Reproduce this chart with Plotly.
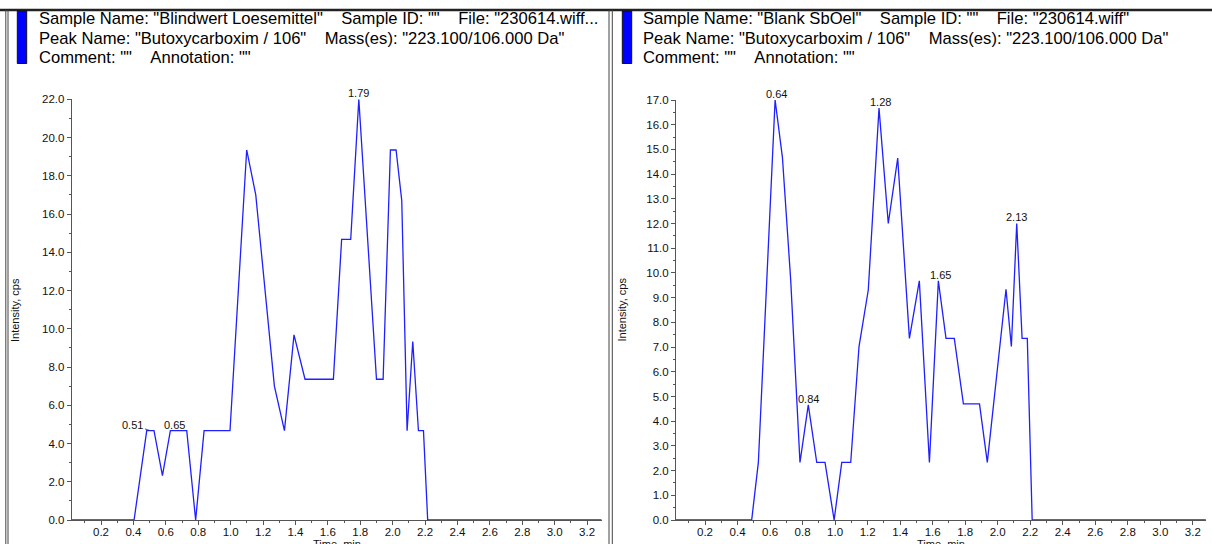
import plotly.graph_objects as go

W, H = 1212, 544

# ---------------- data ----------------
# Left panel: Blindwert Loesemittel
left_time = [0.02, 0.404, 0.482, 0.527, 0.579, 0.628, 0.729, 0.784, 0.836, 0.996,
             1.099, 1.155, 1.270, 1.332, 1.391, 1.459, 1.634, 1.685, 1.741, 1.791,
             1.900, 1.941, 1.986, 2.021, 2.056, 2.089, 2.124, 2.159, 2.190, 2.216, 3.29]
left_int = [0.0, 0.0, 4.67, 4.67, 2.32, 4.67, 4.67, 0.0, 4.67, 4.67,
            19.35, 17.0, 7.0, 4.67, 9.68, 7.36, 7.36, 14.68, 14.68, 22.0,
            7.36, 7.36, 19.35, 19.35, 16.7, 4.67, 9.33, 4.67, 4.67, 0.0, 0.0]

# Right panel: Blank SbOel
right_time = [0.02, 0.487, 0.528, 0.579, 0.631, 0.676, 0.727, 0.784, 0.835, 0.887,
              0.938, 0.994, 1.041, 1.096, 1.147, 1.204, 1.270, 1.327, 1.385, 1.457,
              1.518, 1.580, 1.635, 1.682, 1.733, 1.789, 1.888, 1.936, 2.051, 2.084,
              2.117, 2.150, 2.182, 2.212, 3.28]
right_int = [0.0, 0.0, 2.33, 9.65, 17.0, 14.68, 9.7, 2.33, 4.66, 2.33,
             2.33, 0.0, 2.33, 2.33, 7.02, 9.31, 16.67, 12.0, 14.65, 7.35,
             9.68, 2.33, 9.68, 7.35, 7.35, 4.70, 4.70, 2.33, 9.34, 7.02,
             12.0, 7.35, 7.35, 0.0, 0.0]

# Peak labels: text, label x position (min), peak intensity
left_labels = ["0.65", "1.79"]
left_label_x = [0.651, 1.792]
left_label_y = [4.67, 22.0]
left_arrow_label = "0.51"
left_arrow_x, left_arrow_y = 0.505, 4.67

right_labels = ["0.64", "0.84", "1.28", "1.65", "2.13"]
right_label_x = [0.641, 0.835, 1.278, 1.647, 2.117]
right_label_y = [17.0, 4.66, 16.67, 9.68, 12.0]

left_header = [['Sample Name: "Blindwert Loesemittel"', 'Sample ID: ""', 'File: "230614.wiff...'],
               ['Peak Name: "Butoxycarboxim / 106"', 'Mass(es): "223.100/106.000 Da"'],
               ['Comment: ""', 'Annotation: ""']]
right_header = [['Sample Name: "Blank SbOel"', 'Sample ID: ""', 'File: "230614.wiff"'],
                ['Peak Name: "Butoxycarboxim / 106"', 'Mass(es): "223.100/106.000 Da"'],
                ['Comment: ""', 'Annotation: ""']]

# ---------------- helpers ----------------
def px(x):
    return x / W

def py(y):
    return 1 - y / H

FONT = "Liberation Sans, Arial, sans-serif"
LINE_BLUE = "#1f1fff"
AX = "#555555"
GAP = "\u00a0" * 4

fig = go.Figure()
fig.add_trace(go.Scatter(x=left_time, y=left_int, mode="lines",
                         line=dict(color=LINE_BLUE, width=1.3), xaxis="x", yaxis="y",
                         hoverinfo="skip", showlegend=False))
fig.add_trace(go.Scatter(x=right_time, y=right_int, mode="lines",
                         line=dict(color=LINE_BLUE, width=1.3), xaxis="x2", yaxis="y2",
                         hoverinfo="skip", showlegend=False))

def xaxis_cfg(dom, rng, anchor):
    return dict(domain=dom, range=rng, anchor=anchor, showline=True, linecolor=AX, linewidth=1,
                ticks="outside", ticklen=4, tickcolor=AX, tickwidth=1, showgrid=False,
                zeroline=False, tick0=0, dtick=0.2, tickformat=".1f", automargin=False,
                ticklabelstandoff=-3,
                tickfont=dict(family=FONT, size=11.5, color="#111"),
                minor=dict(ticks="outside", ticklen=2, dtick=0.1, tick0=0, tickcolor=AX, showgrid=False))

def yaxis_cfg(dom, rng, anchor, dt, mdt):
    return dict(domain=dom, range=rng, anchor=anchor, showline=True, linecolor=AX, linewidth=1,
                ticks="outside", ticklen=4, tickcolor=AX, tickwidth=1, showgrid=False,
                zeroline=False, tick0=0, dtick=dt, tickformat=".1f", automargin=False,
                tickfont=dict(family=FONT, size=11.5, color="#111"),
                minor=dict(ticks="outside", ticklen=2, dtick=mdt, tick0=0, tickcolor=AX, showgrid=False))

fig.update_layout(
    template="none",
    width=W, height=H, autosize=False, margin=dict(l=0, r=0, t=0, b=0, pad=0),
    paper_bgcolor="white", plot_bgcolor="white", showlegend=False,
    xaxis=xaxis_cfg([px(71.7), px(601.7)], [0.019, 3.29], "y"),
    yaxis=yaxis_cfg([py(520), py(99.3)], [0, 22], "x", 2, 1),
    xaxis2=xaxis_cfg([px(676), px(1206)], [0.0215, 3.281], "y2"),
    yaxis2=yaxis_cfg([py(520), py(100)], [0, 17], "x2", 1, 0.5),
)

ann = []
# Peak labels
for t, xv, yv in zip(left_labels, left_label_x, left_label_y):
    ann.append(dict(x=xv, y=yv, xref="x", yref="y", text=t, showarrow=False,
                    yanchor="middle", yshift=5.8, font=dict(family=FONT, size=11, color="#111")))
ann.append(dict(x=left_arrow_x, y=left_arrow_y, xref="x", yref="y", text=left_arrow_label,
                showarrow=True, arrowhead=0, arrowwidth=0.8, arrowcolor="#333", ax=-17.5, ay=-5.7,
                standoff=0, font=dict(family=FONT, size=11, color="#111")))
for t, xv, yv in zip(right_labels, right_label_x, right_label_y):
    ann.append(dict(x=xv, y=yv, xref="x2", yref="y2", text=t, showarrow=False,
                    yanchor="middle", yshift=6.2, font=dict(family=FONT, size=11, color="#111")))

# Axis titles
for xc in (15, 621.5):
    ann.append(dict(x=px(xc), y=py(310), xref="paper", yref="paper", text="Intensity, cps",
                    textangle=-90, showarrow=False, xanchor="center", yanchor="middle",
                    font=dict(family=FONT, size=11, color="#111")))
for xc in (336.7, 941.0):
    ann.append(dict(x=px(xc), y=py(536), xref="paper", yref="paper", text="Time, min",
                    showarrow=False, xanchor="center", yanchor="top",
                    font=dict(family=FONT, size=11, color="#111")))

# Headers (one text per line, fields separated by a fixed gap)
line_y = [19, 38.5, 58]
for hdr, x0 in ((left_header, 37), (right_header, 641.5)):
    for li, parts in enumerate(hdr):
        ann.append(dict(x=px(x0), y=py(line_y[li]), xref="paper", yref="paper",
                        text=GAP.join(parts), showarrow=False, xanchor="left", yanchor="middle",
                        font=dict(family=FONT, size=16.6, color="#000")))
fig.update_layout(annotations=ann)

# Frame lines and blue bars
shapes = [
    dict(type="line", xref="paper", yref="paper", x0=0, x1=1, y0=py(10), y1=py(10),
         line=dict(color="#222", width=2.5)),
]
for xv in (5.8, 8.0, 609.0, 612.3):
    shapes.append(dict(type="line", xref="paper", yref="paper", x0=px(xv), x1=px(xv),
                       y0=py(10), y1=0, line=dict(color="#444", width=1)))
for x0 in (17.3, 622.3):
    shapes.append(dict(type="rect", xref="paper", yref="paper", x0=px(x0), x1=px(x0 + 9.4),
                       y0=py(63.5), y1=py(11), fillcolor="#0000ff",
                       line=dict(color="#111", width=1)))
fig.update_layout(shapes=shapes)

fig.write_html(
    "out.html",
    config={"displayModeBar": False},
    post_script="document.body.style.margin='0px';document.body.style.padding='0px';"
                "document.documentElement.style.overflow='hidden';",
)
